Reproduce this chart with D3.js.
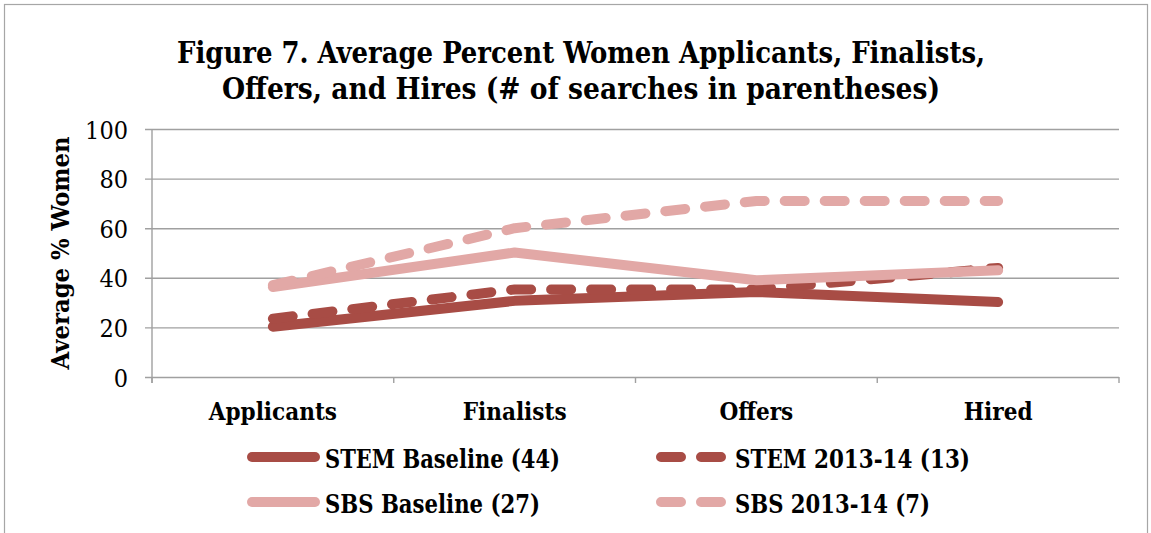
<html>
<script src="https://cdnjs.cloudflare.com/ajax/libs/d3/7.8.5/d3.min.js"></script>
<body style="margin:0;background:white">
<div id="graph"></div>
</body>
<script>
// data
var categories = ["Applicants", "Finalists", "Offers", "Hired"];
var stemBaseline = [20.3, 30.7, 34.3, 30.2];
var stem2013 = [23.5, 35.3, 35.3, 44];
var sbsBaseline = [36.3, 50.2, 39, 43];
var sbs2013 = [37, 60, 71, 71];
var yTicks = [0, 20, 40, 60, 80, 100];

var series = [
  {name: "STEM Baseline (44)", values: stemBaseline, color: "#a84c45", dash: null},
  {name: "STEM 2013-14 (13)", values: stem2013, color: "#a84c45", dash: "20,20"},
  {name: "SBS Baseline (27)", values: sbsBaseline, color: "#e2a8a6", dash: null},
  {name: "SBS 2013-14 (7)", values: sbs2013, color: "#e2a8a6", dash: "20,20"}
];

var W = 1151, H = 533;
var serif = "'DejaVu Serif Condensed', 'DejaVu Serif', serif";
var svg = d3.select("#graph").append("svg").attr("width", W).attr("height", H);

// outer border
svg.append("rect").attr("x", 4.5).attr("y", 4.5).attr("width", 1143).attr("height", 560)
  .style("fill", "none").style("stroke", "#a6a6a6").style("stroke-width", 1.2);

// title
var titleLines = [
  {t: "Figure 7. Average Percent Women Applicants, Finalists,", y: 63, w: 808},
  {t: "Offers, and Hires (# of searches in parentheses)", y: 99, w: 718}
];
titleLines.forEach(function(l) {
  svg.append("text").attr("x", 581).attr("y", l.y).attr("text-anchor", "middle")
    .attr("textLength", l.w).attr("lengthAdjust", "spacingAndGlyphs")
    .style("font-family", serif).style("font-weight", "bold").style("font-size", "30px")
    .text(l.t);
});

var pLeft = 152, pRight = 1119, pTop = 129, pBottom = 377;
var X = d3.scalePoint().domain(categories).range([pLeft, pRight]).padding(0.5);
var Y = d3.scaleLinear().domain([0, 100]).range([pBottom, pTop]);

// gridlines + y axis
var yAxis = svg.append("g").attr("transform", "translate(" + pLeft + ",0)")
  .call(d3.axisLeft(Y).tickValues(yTicks).tickSize(-(pRight - pLeft)).tickPadding(24));
yAxis.select(".domain").remove();
yAxis.selectAll(".tick line").attr("x1", -7).style("stroke", "#a0a0a0").style("stroke-width", 1.4);
yAxis.selectAll(".tick text").style("font-family", serif).style("font-size", "25px").style("fill", "#000")
  .attr("dy", "0.36em");

// y axis vertical line
svg.append("line").attr("x1", pLeft).attr("x2", pLeft).attr("y1", pTop).attr("y2", pBottom + 6)
  .style("stroke", "#a0a0a0").style("stroke-width", 1.4);

// x axis ticks at band edges
var step = X.step();
var edges = d3.range(categories.length + 1).map(function(i) { return pLeft + i * step; });
svg.selectAll(".xt").data(edges).enter().append("line")
  .attr("x1", function(d) { return d; }).attr("x2", function(d) { return d; })
  .attr("y1", pBottom).attr("y2", pBottom + 6)
  .style("stroke", "#a0a0a0").style("stroke-width", 1.4);

svg.selectAll(".xl").data(categories).enter().append("text")
  .attr("x", function(d) { return X(d); }).attr("y", 420).attr("text-anchor", "middle")
  .style("font-family", serif).style("font-weight", "bold").style("font-size", "24px")
  .text(function(d) { return d; });

// y axis title
svg.append("text").attr("transform", "translate(69,253) rotate(-90)").attr("text-anchor", "middle")
  .attr("textLength", 233).attr("lengthAdjust", "spacingAndGlyphs")
  .style("font-family", serif).style("font-weight", "bold").style("font-size", "25px")
  .text("Average % Women");

// lines
var line = d3.line().x(function(d, i) { return X(categories[i]); }).y(function(d) { return Y(d); });
svg.selectAll(".series").data(series).enter().append("path")
  .attr("d", function(d) { return line(d.values); })
  .style("fill", "none").style("stroke", function(d) { return d.color; })
  .style("stroke-width", 10).style("stroke-linecap", "round").style("stroke-linejoin", "round")
  .style("stroke-dasharray", function(d) { return d.dash; });

// legend
var legPos = [
  {x: 252, y: 457, w: 235},
  {x: 661, y: 457, w: 235},
  {x: 252, y: 502, w: 215},
  {x: 661, y: 502, w: 195}
];
series.forEach(function(s, i) {
  var p = legPos[i];
  var len = s.dash ? 60 : 63;
  svg.append("line").attr("x1", p.x).attr("x2", p.x + len).attr("y1", p.y).attr("y2", p.y)
    .style("stroke", s.color).style("stroke-width", 10).style("stroke-linecap", "round")
    .style("stroke-dasharray", s.dash);
  svg.append("text").attr("x", s.dash ? 735 : 325).attr("y", p.y + 11)
    .attr("textLength", p.w).attr("lengthAdjust", "spacingAndGlyphs")
    .style("font-family", serif).style("font-weight", "bold").style("font-size", "26px")
    .text(s.name);
});
</script>
</html>
